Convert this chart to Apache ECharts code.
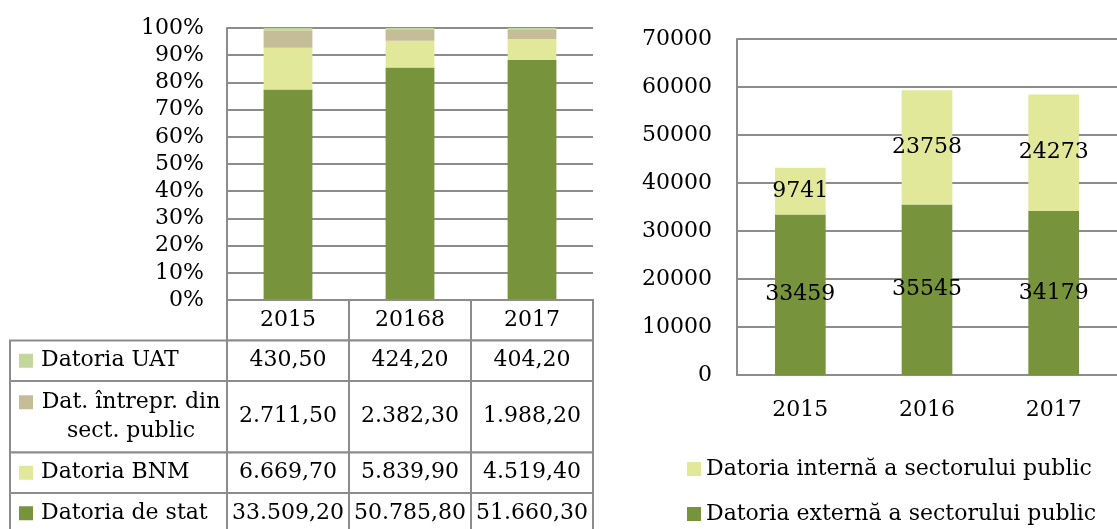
<!DOCTYPE html>
<html>
<head>
<meta charset="utf-8">
<script src="https://cdn.jsdelivr.net/npm/echarts@6/dist/echarts.min.js"></script>
<style>
  html, body { margin: 0; padding: 0; background: #fff; }
  #chart { width: 1117px; height: 529px; }
</style>
</head>
<body>
<div id="chart"></div>
<script>
// left chart + table
const tableYears = ['2015', '20168', '2017'];
const rowLabels = ['Datoria UAT', 'Dat. întrepr. din\nsect. public', 'Datoria BNM', 'Datoria de stat'];
const datoriaUAT = [430.5, 424.2, 404.2];
const datoriaIntrepr = [2711.5, 2382.3, 1988.2];
const datoriaBNM = [6669.7, 5839.9, 4519.4];
const datoriaStat = [33509.2, 50785.8, 51660.3];
const percentTicks = [0, 100, 10];

// right chart
const years = ['2015', '2016', '2017'];
const datoriaExterna = [33459, 35545, 34179];
const datoriaInterna = [9741, 23758, 24273];
const legendNames = ['Datoria internă a sectorului public', 'Datoria externă a sectorului public'];

const gray = '#8c8c8c';
const font = 'DejaVu Serif';
const rowColors = ['#c3d69b', '#c4bd97', '#e2e89a', '#77933c'];
const rowValues = [datoriaUAT, datoriaIntrepr, datoriaBNM, datoriaStat];

const totals = tableYears.map((y, i) => rowValues.reduce((s, arr) => s + arr[i], 0));
const share = arr => arr.map((v, i) => v / totals[i] * 100);

function fmt(v) {
  const parts = v.toFixed(2).split('.');
  return parts[0].replace(/\B(?=(\d{3})+(?!\d))/g, '.') + ',' + parts[1];
}

// table layout
const LABEL_COL_W = 217;
const lineCounts = [1].concat(rowLabels.map(l => l.split('\n').length));
const rowTops = [0];
lineCounts.forEach(n => rowTops.push(rowTops[rowTops.length - 1] + 9.5 + 31 * n));

const cells = [];
tableYears.forEach((y, c) => cells.push({ col: c, row: 0, text: y }));
rowLabels.forEach((lab, r) => {
  cells.push({ col: -1, row: r + 1, text: lab, color: rowColors[r] });
  rowValues[r].forEach((v, c) => cells.push({ col: c, row: r + 1, text: fmt(v) }));
});

function renderCell(params, api) {
  const cell = cells[params.dataIndex];
  const yTop = api.coord([0, rowTops[cell.row]])[1];
  const yBot = api.coord([0, rowTops[cell.row + 1]])[1];
  let x0, x1;
  if (cell.col < 0) {
    x1 = api.coord([-0.5, 0])[0];
    x0 = x1 - LABEL_COL_W;
  } else {
    x0 = api.coord([cell.col - 0.5, 0])[0];
    x1 = api.coord([cell.col + 0.5, 0])[0];
  }
  const children = [{
    type: 'rect',
    shape: { x: x0, y: yTop, width: x1 - x0, height: yBot - yTop },
    style: { fill: '#fff', stroke: gray, lineWidth: 2 }
  }];
  const yMid = (yTop + yBot) / 2;
  if (cell.col < 0) {
    const lines = cell.text.split('\n').length;
    const firstY = yMid - (lines - 1) * 14.5;
    children.push({
      type: 'rect',
      shape: { x: x0 + 9, y: firstY - 7, width: 14, height: 14 },
      style: { fill: cell.color }
    });
    children.push({
      type: 'text',
      style: {
        text: cell.text,
        x: lines > 1 ? (x0 + 31 + x1 - 6) / 2 : x0 + 31,
        y: yMid,
        align: lines > 1 ? 'center' : 'left',
        verticalAlign: 'middle',
        font: '22px "' + font + '"',
        lineHeight: 29,
        fill: '#000'
      }
    });
  } else {
    children.push({
      type: 'text',
      style: {
        text: cell.text, x: (x0 + x1) / 2, y: yMid,
        align: 'center', verticalAlign: 'middle',
        font: '22px "' + font + '"', fill: '#000'
      }
    });
  }
  return { type: 'group', children: children };
}

const chart = echarts.init(document.getElementById('chart'));
const leftBar = (name, data, color) => ({
  name: name, type: 'bar', stack: 'pct', xAxisIndex: 0, yAxisIndex: 0,
  data: share(data), barWidth: '40%', itemStyle: { color: color }
});
const legendItem = (name, top) => ({
  data: [name], orient: 'vertical', left: 682, top: top,
  itemWidth: 14, itemHeight: 14, itemGap: 6, icon: 'rect',
  textStyle: { fontSize: 22, color: '#000', fontFamily: font }
});

chart.setOption({
  animation: false,
  textStyle: { fontFamily: font },
  grid: [
    { left: 227, top: 28, width: 366, height: 272 },
    { left: 737, top: 39, width: 387, height: 336 },
    { left: 227, top: 300, width: 366, height: 229 }
  ],
  xAxis: [
    { gridIndex: 0, type: 'category', data: tableYears,
      axisLine: { lineStyle: { color: gray, width: 2 } },
      axisTick: { show: false }, axisLabel: { show: false } },
    { gridIndex: 1, type: 'category', data: years,
      axisLine: { lineStyle: { color: gray, width: 2 } },
      axisTick: { show: false },
      axisLabel: { fontSize: 22, color: '#000', margin: 24 } },
    { gridIndex: 2, type: 'value', min: -0.5, max: 2.5, show: false }
  ],
  yAxis: [
    { gridIndex: 0, type: 'value', min: percentTicks[0], max: percentTicks[1], interval: percentTicks[2],
      axisLine: { show: true, lineStyle: { color: gray, width: 2 } },
      axisTick: { show: false },
      splitLine: { lineStyle: { color: gray, width: 2 } },
      axisLabel: { formatter: '{value}%', fontSize: 22, color: '#000', margin: 23 } },
    { gridIndex: 1, type: 'value', min: 0, max: 70000, interval: 10000,
      axisLine: { show: true, lineStyle: { color: gray, width: 2 } },
      axisTick: { show: false },
      splitLine: { lineStyle: { color: gray, width: 2 } },
      axisLabel: { formatter: v => String(v), fontSize: 22, color: '#000', margin: 25 } },
    { gridIndex: 2, type: 'value', min: 0, max: 229, inverse: true, show: false }
  ],
  legend: [legendItem(legendNames[0], 453), legendItem(legendNames[1], 498)],
  series: [
    leftBar('Datoria de stat', datoriaStat, rowColors[3]),
    leftBar('Datoria BNM', datoriaBNM, rowColors[2]),
    leftBar('Dat. întrepr. din sect. public', datoriaIntrepr, rowColors[1]),
    leftBar('Datoria UAT', datoriaUAT, rowColors[0]),
    { name: legendNames[1], type: 'bar', stack: 'abs', xAxisIndex: 1, yAxisIndex: 1,
      data: datoriaExterna, barWidth: '40%', itemStyle: { color: '#77933c' },
      label: { show: true, position: 'inside', fontSize: 22, color: '#000' } },
    { name: legendNames[0], type: 'bar', stack: 'abs', xAxisIndex: 1, yAxisIndex: 1,
      data: datoriaInterna, barWidth: '40%', itemStyle: { color: '#e2e89a' },
      label: { show: true, position: 'inside', fontSize: 22, color: '#000' } },
    { type: 'custom', xAxisIndex: 2, yAxisIndex: 2, clip: false,
      data: cells.map(c => [c.col, c.row]), renderItem: renderCell, z: 5 }
  ]
});
</script>
</body>
</html>
